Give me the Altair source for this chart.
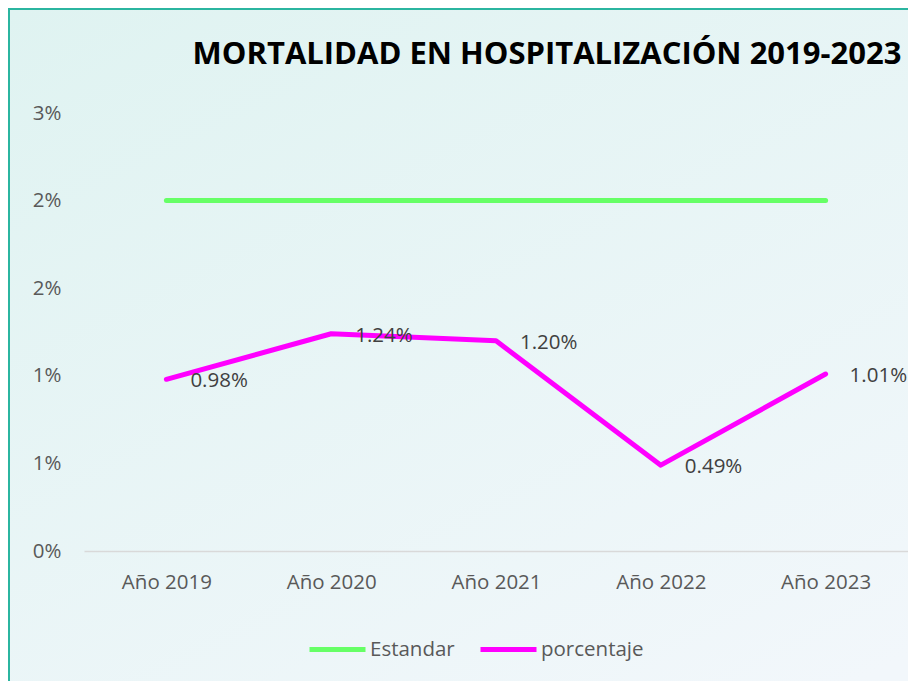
import altair as alt
import pandas as pd

years = ["Año 2019", "Año 2020", "Año 2021", "Año 2022", "Año 2023"]
estandar = [2.0, 2.0, 2.0, 2.0, 2.0]
porcentaje = [0.98, 1.24, 1.20, 0.49, 1.01]
porcentaje_labels = ["0.98%", "1.24%", "1.20%", "0.49%", "1.01%"]
series_names = ["Estandar", "porcentaje"]
series_colors = ["#66FF66", "#FF00FF"]
y_ticks = [0, 0.5, 1.0, 1.5, 2.0, 2.5]
y_tick_labels = ["0%", "1%", "1%", "2%", "2%", "3%"]

rows = []
for i, y in enumerate(years):
    rows.append({"anio": y, "serie": "Estandar", "valor": estandar[i], "etiqueta": ""})
    rows.append({"anio": y, "serie": "porcentaje", "valor": porcentaje[i], "etiqueta": porcentaje_labels[i]})
df = pd.DataFrame(rows)

FONT = "Open Sans"
FS = 20.5
label_arr = "[" + ",".join("'" + s + "'" for s in y_tick_labels) + "]"

x_enc = alt.X("anio:N", sort=years, scale=alt.Scale(type="point", padding=0.5),
              axis=alt.Axis(title=None, labelAngle=0, ticks=False, labelPadding=21, zindex=1,
                            domainColor="#d9d9d9", domainWidth=1.5, labelFontSize=FS,
                            labelColor="#595959", labelFont=FONT))
y_enc = alt.Y("valor:Q", scale=alt.Scale(domain=[0, 2.5], nice=False),
              axis=alt.Axis(title=None, values=y_ticks, grid=False, domain=False, ticks=False, zindex=1,
                            labelPadding=23, labelFontSize=FS, labelColor="#595959", labelFont=FONT,
                            labelExpr=label_arr + "[round(datum.value*2)]"))

bg = alt.Chart(pd.DataFrame({"k": [0]})).mark_rect(
    fill={"gradient": "linear", "x1": 0, "y1": 0, "x2": 0.6, "y2": 1,
          "stops": [{"offset": 0, "color": "#dff3f1"}, {"offset": 1, "color": "#f2f7fb"}]},
    stroke="#2bb5a0", strokeWidth=2
).encode(x=alt.value(-75), x2=alt.value(900), y=alt.value(-104), y2=alt.value(700))

lines = alt.Chart(df).mark_line(strokeWidth=5, strokeCap="round", strokeJoin="round").encode(
    x=x_enc, y=y_enc,
    color=alt.Color("serie:N", scale=alt.Scale(domain=series_names, range=series_colors),
                    legend=alt.Legend(title=None, orient="none", legendX=223, legendY=506,
                                      direction="horizontal", symbolType="stroke",
                                      symbolSize=3136, symbolStrokeWidth=5,
                                      labelFontSize=FS, labelColor="#595959", labelFont=FONT,
                                      labelOffset=2, columnPadding=15))
)

labels = alt.Chart(df).transform_filter(alt.datum.serie == "porcentaje").mark_text(
    align="left", baseline="middle", dx=24, dy=2, fontSize=FS, color="#404040", font=FONT
).encode(x=alt.X("anio:N", sort=years), y="valor:Q", text="etiqueta:N")

chart = alt.layer(bg, lines, labels).properties(
    width=824, height=438,
    autosize=alt.AutoSizeParams(type="none"),
    padding={"left": 76, "top": 105, "right": 0, "bottom": 130},
    background="#e6f5f4",
    title=alt.TitleParams("MORTALIDAD EN HOSPITALIZACIÓN 2019-2023", font=FONT, fontSize=31,
                          fontWeight="bold", color="#000000", anchor="middle", dx=51,
                          frame="group", offset=-87, baseline="alphabetic"),
).configure_view(stroke=None)

chart.save("out.html", embed_options={"renderer": "svg", "actions": False})
